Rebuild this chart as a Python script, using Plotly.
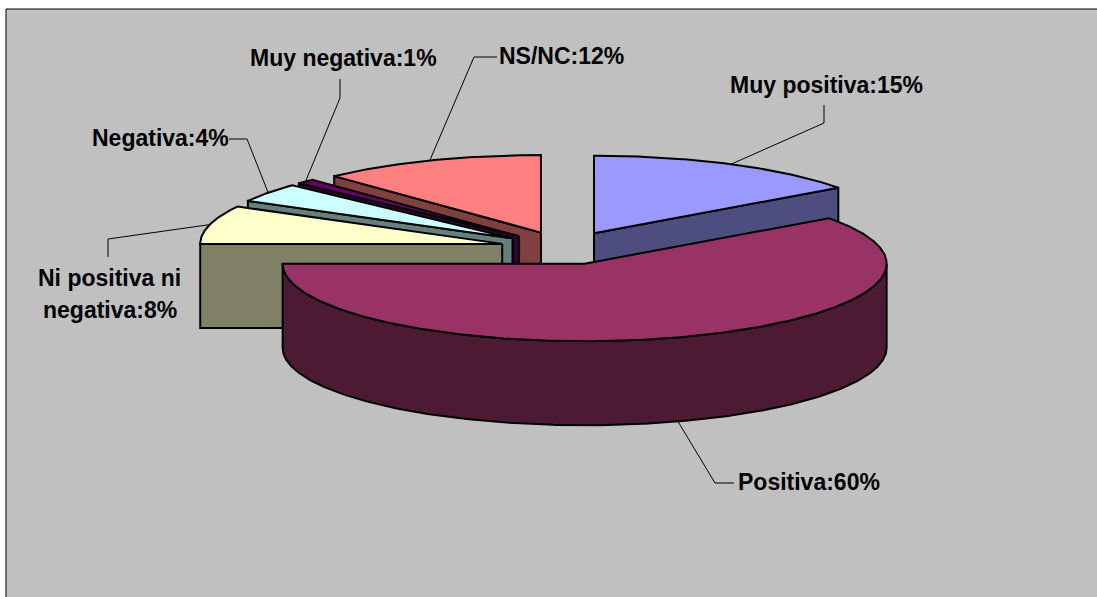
import math
import plotly.graph_objects as go

# ---- data ----
categories = ["Muy positiva", "Positiva", "Ni positiva ni negativa", "Negativa", "Muy negativa", "NS/NC"]
values = [15, 60, 8, 4, 1, 12]

# ---- styling / layout ----
top_colors = ["#9999FF", "#993366", "#FFFFCC", "#CCFFFF", "#660066", "#FF8080"]
side_colors = ["#4D4D80", "#4D1A33", "#808066", "#668080", "#330033", "#804040"]
draw_order = [0, 5, 4, 3, 2, 1]

W, H = 1097, 597
CX, CY = 564.7, 248.0      # pie centre before explosion
RX, RY = 302.0, 77.5       # tilted pie radii
DEPTH = 84.0               # extrusion
EXPLODE = 0.2136           # explosion fraction

# elbows / label anchors of the leader lines, in chart pixels
label_layout = {
    "Muy positiva": dict(path=[(824, 123), (824, 105)], text=[(826, 85)]),
    "Positiva": dict(path=[(715, 483), (734, 483)], text=[(809, 482)]),
    "Ni positiva ni negativa": dict(path=[(108, 239), (108, 257)], text=[(109.5, 278), (109.5, 310)]),
    "Negativa": dict(path=[(247, 139), (229, 139)], text=[(160, 138)]),
    "Muy negativa": dict(path=[(340, 98), (340, 79)], text=[(343, 58)]),
    "NS/NC": dict(path=[(474, 57), (497, 57)], text=[(561, 56)]),
}
label_lines = {"Ni positiva ni negativa": ["Ni positiva ni", "negativa"]}

FONT = dict(family="Liberation Sans, Arial, sans-serif", size=23, color="black")


def rim(cx, cy, deg):
    a = math.radians(deg)
    return cx + RX * math.sin(a), cy - RY * math.cos(a)


def arc(cx, cy, a0, a1, dy=0.0):
    n = max(2, int(abs(a1 - a0) * 2) + 1)
    pts = [rim(cx, cy, a0 + (a1 - a0) * i / (n - 1)) for i in range(n)]
    return [(x, y + dy) for x, y in pts]


def poly(pts, fill):
    xs = [p[0] for p in pts] + [pts[0][0]]
    ys = [p[1] for p in pts] + [pts[0][1]]
    return go.Scatter(x=xs, y=ys, mode="lines", fill="toself", fillcolor=fill,
                      line=dict(color="black", width=2), hoverinfo="skip", showlegend=False)


total = sum(values)
angles = []
start = 0.0
for v in values:
    end = start + 360.0 * v / total
    angles.append((start, end))
    start = end

fig = go.Figure()
centers = []
for a0, a1 in angles:
    mid = math.radians((a0 + a1) / 2)
    centers.append((CX + EXPLODE * RX * math.sin(mid), CY - EXPLODE * RY * math.cos(mid)))

for i in draw_order:
    a0, a1 = angles[i]
    cx, cy = centers[i]
    apex = (cx, cy)
    # radial walls that face the viewer
    if math.sin(math.radians(a0)) < -1e-9:
        p = rim(cx, cy, a0)
        fig.add_trace(poly([apex, p, (p[0], p[1] + DEPTH), (cx, cy + DEPTH)], side_colors[i]))
    if math.sin(math.radians(a1)) > 1e-9:
        p = rim(cx, cy, a1)
        fig.add_trace(poly([apex, p, (p[0], p[1] + DEPTH), (cx, cy + DEPTH)], side_colors[i]))
    # outer wall on the front half
    f0, f1 = max(a0, 90.0), min(a1, 270.0)
    if f1 > f0:
        fig.add_trace(poly(arc(cx, cy, f0, f1) + arc(cx, cy, f1, f0, DEPTH), side_colors[i]))
    # top face
    fig.add_trace(poly([apex] + arc(cx, cy, a0, a1), top_colors[i]))

# leader lines start on the slice rim at its mid angle
for i, name in enumerate(categories):
    a0, a1 = angles[i]
    mid = (a0 + a1) / 2
    cx, cy = centers[i]
    sx, sy = rim(cx, cy, mid)
    if 90 < mid < 270:
        sy += DEPTH
    pts = [(sx, sy)] + label_layout[name]["path"]
    fig.add_trace(go.Scatter(x=[p[0] for p in pts], y=[p[1] for p in pts], mode="lines",
                             line=dict(color="black", width=1), hoverinfo="skip", showlegend=False))

annotations = []
for name, v in zip(categories, values):
    lines = label_lines.get(name, [name])
    lines = lines[:-1] + [f"{lines[-1]}:{v}%"]
    for (tx, ty), line in zip(label_layout[name]["text"], lines):
        annotations.append(dict(x=tx, y=ty, xref="x", yref="y", text=f"<b>{line}</b>", showarrow=False,
                                xanchor="center", yanchor="middle", font=FONT))

fig.update_layout(
    width=W, height=H, margin=dict(l=0, r=0, t=0, b=0, pad=0),
    paper_bgcolor="white", plot_bgcolor="white", showlegend=False,
    xaxis=dict(range=[0, W], visible=False, fixedrange=True),
    yaxis=dict(range=[H, 0], visible=False, fixedrange=True),
    annotations=annotations,
    shapes=[dict(type="rect", xref="x", yref="y", x0=6, y0=9, x1=W + 5, y1=H + 5,
                 fillcolor="#C0C0C0", line=dict(color="black", width=1), layer="below")],
)

fig.write_html("out.html", config=dict(displayModeBar=False),
               post_script="document.body.style.margin='0';document.body.style.overflow='hidden';")
